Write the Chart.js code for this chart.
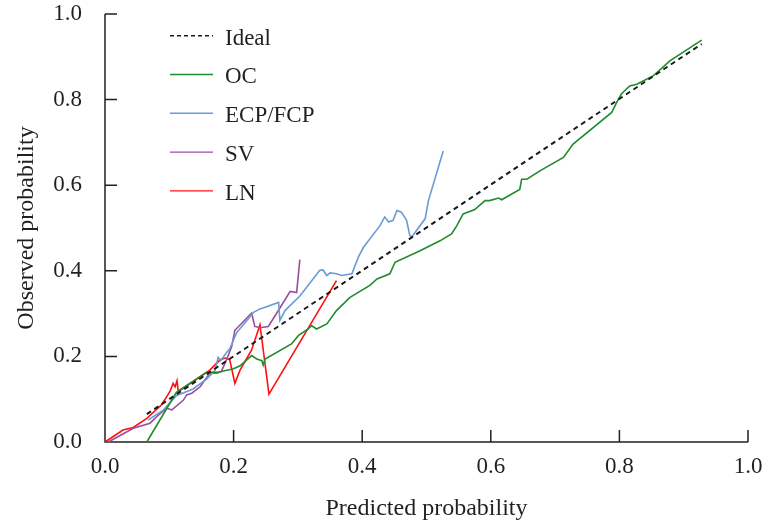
<!DOCTYPE html>
<html>
<head>
<meta charset="utf-8">
<script src="https://cdn.jsdelivr.net/npm/chart.js@4/dist/chart.umd.min.js"></script>
<style>
  html, body { margin: 0; padding: 0; background: #fff; }
  #wrap { width: 768px; height: 529px; }
</style>
</head>
<body>
<div id="wrap"><canvas id="calib"></canvas></div>
<script>
  // calibration curves
  var idealX = [0.065, 0.928];
  var idealY = [0.065, 0.930];

  var ocX = [0.065, 0.111, 0.158, 0.176, 0.200, 0.210, 0.228, 0.236, 0.244, 0.246, 0.249, 0.290, 0.301, 0.316, 0.321, 0.329, 0.345, 0.360, 0.381, 0.412, 0.423, 0.443, 0.451, 0.490, 0.521, 0.539, 0.547, 0.557, 0.575, 0.591, 0.598, 0.612, 0.617, 0.645, 0.648, 0.656, 0.677, 0.713, 0.728, 0.788, 0.796, 0.803, 0.816, 0.827, 0.853, 0.879, 0.928];
  var ocY = [0.000, 0.116, 0.163, 0.163, 0.171, 0.178, 0.202, 0.194, 0.190, 0.180, 0.194, 0.229, 0.249, 0.264, 0.272, 0.264, 0.276, 0.307, 0.338, 0.366, 0.381, 0.393, 0.420, 0.447, 0.470, 0.486, 0.505, 0.533, 0.543, 0.564, 0.564, 0.570, 0.566, 0.590, 0.614, 0.614, 0.634, 0.665, 0.696, 0.770, 0.794, 0.813, 0.832, 0.836, 0.856, 0.891, 0.939];

  var ecpX = [0.067, 0.091, 0.111, 0.137, 0.158, 0.171, 0.176, 0.180, 0.189, 0.194, 0.205, 0.223, 0.231, 0.241, 0.249, 0.270, 0.272, 0.280, 0.303, 0.314, 0.334, 0.339, 0.345, 0.350, 0.360, 0.368, 0.384, 0.394, 0.402, 0.428, 0.435, 0.441, 0.448, 0.454, 0.461, 0.469, 0.474, 0.477, 0.498, 0.503, 0.526];
  var ecpY = [0.051, 0.075, 0.108, 0.124, 0.147, 0.167, 0.198, 0.190, 0.209, 0.218, 0.256, 0.288, 0.303, 0.311, 0.315, 0.326, 0.284, 0.307, 0.341, 0.362, 0.401, 0.402, 0.389, 0.395, 0.393, 0.389, 0.393, 0.432, 0.455, 0.506, 0.526, 0.514, 0.518, 0.541, 0.537, 0.518, 0.483, 0.479, 0.522, 0.564, 0.680];

  var svX = [0.005, 0.044, 0.070, 0.083, 0.096, 0.104, 0.122, 0.127, 0.135, 0.148, 0.163, 0.174, 0.181, 0.189, 0.197, 0.202, 0.215, 0.228, 0.233, 0.241, 0.254, 0.272, 0.288, 0.298, 0.303];
  var svY = [0.000, 0.032, 0.044, 0.063, 0.079, 0.075, 0.098, 0.110, 0.114, 0.129, 0.161, 0.161, 0.165, 0.192, 0.223, 0.261, 0.281, 0.301, 0.270, 0.267, 0.270, 0.313, 0.352, 0.349, 0.426];

  var lnX = [0.000, 0.028, 0.044, 0.065, 0.088, 0.096, 0.101, 0.106, 0.109, 0.112, 0.114, 0.163, 0.179, 0.187, 0.194, 0.202, 0.210, 0.228, 0.241, 0.255, 0.360];
  var lnY = [0.000, 0.028, 0.034, 0.055, 0.087, 0.106, 0.118, 0.137, 0.129, 0.143, 0.118, 0.168, 0.192, 0.196, 0.192, 0.137, 0.168, 0.215, 0.274, 0.112, 0.377];

  var tickValues = [0, 0.2, 0.4, 0.6, 0.8, 1.0];

  var serif = "'Liberation Serif', 'DejaVu Serif', serif";
  var ink = '#231f20';

  function toPoints(xs, ys) {
    var pts = [];
    for (var i = 0; i < xs.length; i++) {
      pts.push({x: xs[i], y: ys[i]});
    }
    return pts;
  }

  function series(label, xs, ys, color, width, dash, legendDash) {
    return {
      label: label,
      data: toPoints(xs, ys),
      showLine: true,
      borderColor: color,
      backgroundColor: color,
      borderWidth: width,
      borderDash: dash,
      legendDash: legendDash,
      pointRadius: 0,
      pointHoverRadius: 0,
      tension: 0,
      clip: 3
    };
  }

  // axis lines with ticks pointing into the plot
  var axisLines = {
    id: 'axisLines',
    beforeDatasetsDraw: function(chart) {
      var ctx = chart.ctx;
      var a = chart.chartArea;
      var sx = chart.scales.x;
      var sy = chart.scales.y;
      ctx.save();
      ctx.strokeStyle = ink;
      ctx.lineWidth = 1.5;
      ctx.beginPath();
      ctx.moveTo(a.left, a.top);
      ctx.lineTo(a.left, a.bottom);
      ctx.lineTo(a.right, a.bottom);
      tickValues.forEach(function(v) {
        var px = sx.getPixelForValue(v);
        ctx.moveTo(px, a.bottom);
        ctx.lineTo(px, a.bottom - 12);
        var py = sy.getPixelForValue(v);
        ctx.moveTo(a.left, py);
        ctx.lineTo(a.left + 12, py);
      });
      ctx.stroke();
      ctx.restore();
    }
  };

  // legend inside the plot, top left
  var insideLegend = {
    id: 'insideLegend',
    afterDraw: function(chart) {
      var ctx = chart.ctx;
      ctx.save();
      ctx.font = '23px ' + serif;
      ctx.textBaseline = 'alphabetic';
      ctx.textAlign = 'left';
      chart.data.datasets.forEach(function(ds, i) {
        var y = 35.7 + i * 38.8;
        ctx.strokeStyle = ds.borderColor;
        ctx.lineWidth = 1.4;
        ctx.setLineDash(ds.legendDash || []);
        ctx.beginPath();
        ctx.moveTo(170, y);
        ctx.lineTo(213, y);
        ctx.stroke();
        ctx.setLineDash([]);
        ctx.fillStyle = ink;
        ctx.fillText(ds.label, 225, 44.5 + i * 38.8);
      });
      ctx.restore();
    }
  };

  var ctx = document.getElementById('calib').getContext('2d');
  new Chart(ctx, {
    type: 'scatter',
    data: {
      datasets: [
        series('Ideal', idealX, idealY, '#1a1a1a', 2, [5, 4], [4, 3]),
        series('OC', ocX, ocY, '#1f8b2c', 1.6, [], []),
        series('ECP/FCP', ecpX, ecpY, '#6a9bd3', 1.6, [], []),
        series('SV', svX, svY, '#9b4c9f', 1.6, [], []),
        series('LN', lnX, lnY, '#ff1010', 1.6, [], [])
      ]
    },
    options: {
      responsive: true,
      maintainAspectRatio: false,
      animation: false,
      layout: { padding: { top: 14, right: 20, left: 0, bottom: 0 } },
      plugins: {
        legend: { display: false },
        tooltip: { enabled: false }
      },
      scales: {
        x: {
          type: 'linear',
          min: 0,
          max: 1,
          afterFit: function(scale) { scale.height = 87; },
          afterBuildTicks: function(scale) {
            scale.ticks = tickValues.map(function(v) { return {value: v}; });
          },
          // invisible tick marks only reserve room for the labels
          grid: { display: true, drawOnChartArea: false, drawTicks: true, tickLength: 11.4, color: 'rgba(0,0,0,0)' },
          border: { display: false },
          ticks: {
            padding: 0,
            color: ink,
            font: { family: serif, size: 23 },
            maxRotation: 0,
            callback: function(v) { return v.toFixed(1); }
          },
          title: {
            display: true,
            text: 'Predicted probability',
            color: ink,
            font: { family: serif, size: 24 },
            padding: { top: 0, bottom: 6 }
          }
        },
        y: {
          type: 'linear',
          min: 0,
          max: 1,
          afterFit: function(scale) { scale.width = 105; },
          afterBuildTicks: function(scale) {
            scale.ticks = tickValues.map(function(v) { return {value: v}; });
          },
          grid: { display: true, drawOnChartArea: false, drawTicks: true, tickLength: 23, color: 'rgba(0,0,0,0)' },
          border: { display: false },
          ticks: {
            padding: 0,
            color: ink,
            font: { family: serif, size: 23 },
            callback: function(v) { return v.toFixed(1); }
          },
          title: {
            display: true,
            text: 'Observed probability',
            color: ink,
            font: { family: serif, size: 24 },
            padding: { top: 12, bottom: 0 }
          }
        }
      }
    },
    plugins: [axisLines, insideLegend]
  });
</script>
</body>
</html>
